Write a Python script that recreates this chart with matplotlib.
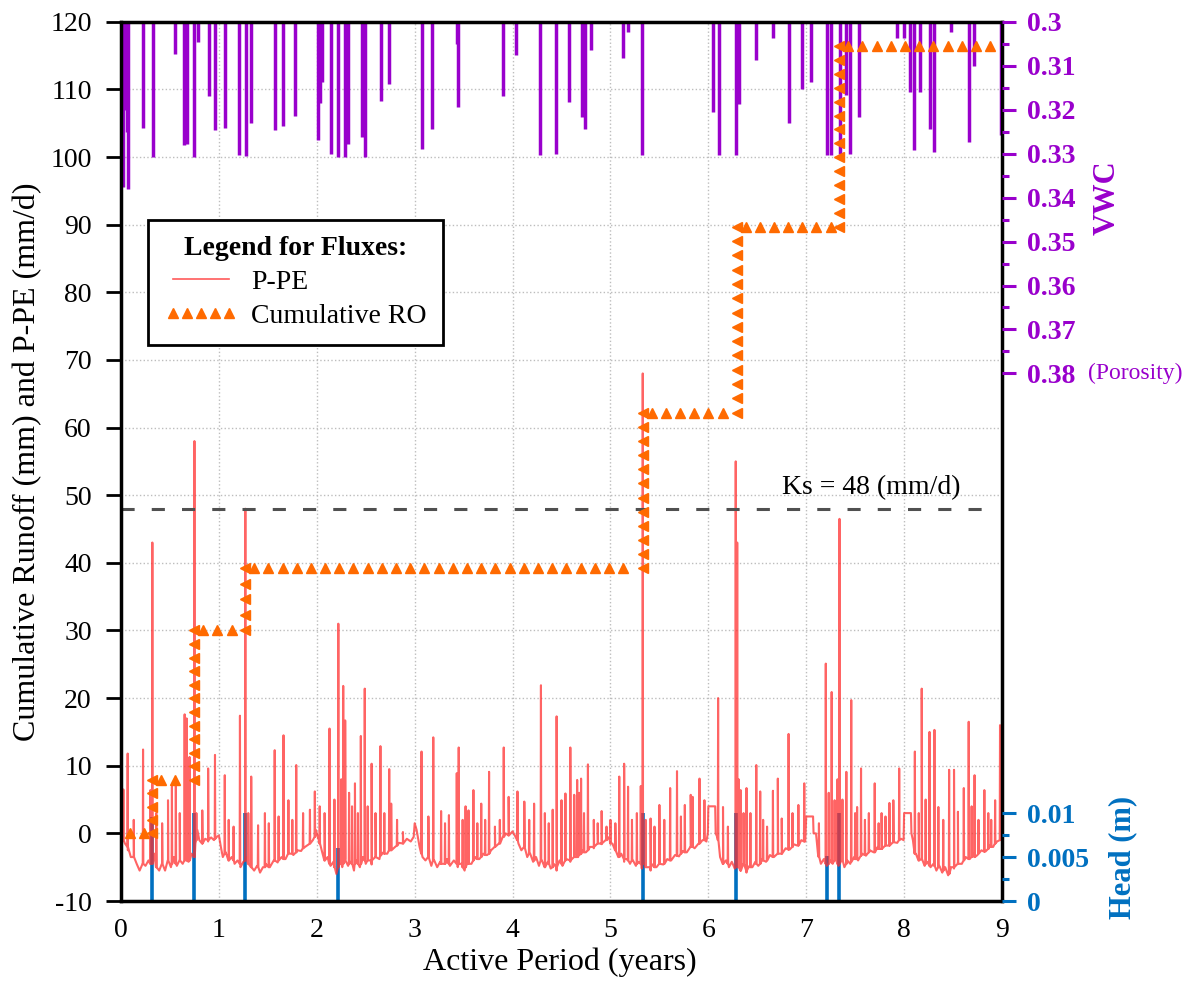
import numpy as np
import matplotlib.pyplot as plt
from matplotlib.lines import Line2D
from matplotlib import transforms

plt.rcParams['font.family'] = ['Liberation Serif', 'DejaVu Serif']
plt.rcParams['axes.unicode_minus'] = False

# ---- P-PE (mm/d): background trace (years, value)
pe_base = [
    (0.00, 0.0), (0.01, -1.0), (0.04, -1.5), (0.07, -2.5), (0.10, -3.5), (0.13, -3.0), (0.16, -4.5),
    (0.19, -5.5), (0.22, -4.5), (0.25, -4.8), (0.28, -4.0), (0.31, -4.5), (0.34, -3.0), (0.36, -5.0),
    (0.39, -5.5), (0.42, -4.5), (0.45, -5.5), (0.48, -4.0), (0.51, -5.0), (0.54, -3.5), (0.57, -4.8),
    (0.60, -3.8), (0.63, -4.5), (0.66, -3.5), (0.69, -4.2), (0.72, -3.0), (0.745, -3.5), (0.76, -1.5),
    (0.78, 0.5), (0.80, -1.0), (0.83, -1.5), (0.86, -0.8), (0.89, -1.2), (0.92, -0.6), (0.95, -1.0),
    (0.98, -0.5), (1.00, -0.3),
    (1.02, -2.0), (1.04, -3.5), (1.07, -2.8), (1.10, -4.0), (1.13, -3.5), (1.16, -4.5), (1.19, -4.0),
    (1.22, -5.0), (1.25, -4.2), (1.28, -3.5), (1.30, -4.5), (1.33, -5.0), (1.36, -5.5), (1.39, -4.8),
    (1.42, -5.8), (1.45, -5.0), (1.48, -4.5), (1.52, -5.0), (1.56, -4.0), (1.60, -4.3), (1.64, -3.5),
    (1.68, -3.8), (1.72, -3.0), (1.76, -3.2), (1.80, -2.5), (1.84, -2.6), (1.88, -2.0), (1.92, -1.6),
    (1.96, -1.0), (1.99, 0.5),
    (2.02, -1.0), (2.05, -2.5), (2.08, -4.0), (2.11, -3.5), (2.14, -4.8), (2.17, -4.2), (2.20, -6.0),
    (2.23, -4.5), (2.26, -5.0), (2.29, -3.8), (2.32, -4.8), (2.35, -4.2), (2.38, -5.5), (2.41, -4.0),
    (2.44, -5.0), (2.47, -3.5), (2.50, -4.5), (2.53, -4.0), (2.56, -4.6), (2.60, -3.5), (2.64, -3.8),
    (2.68, -2.8), (2.72, -3.0), (2.76, -2.2), (2.80, -2.0), (2.84, -1.4), (2.88, -1.5), (2.92, -0.8),
    (2.96, -1.2), (2.99, -0.5),
    (3.00, 1.5), (3.02, 0.5), (3.05, -2.0), (3.08, -3.5), (3.11, -4.0), (3.14, -3.5), (3.17, -4.8),
    (3.20, -4.0), (3.23, -5.0), (3.26, -4.2), (3.30, -4.5), (3.33, -3.8), (3.36, -4.8), (3.40, -4.0),
    (3.44, -5.0), (3.48, -4.5), (3.51, -5.5), (3.54, -4.2), (3.58, -4.5), (3.62, -3.5), (3.66, -3.8),
    (3.70, -3.0), (3.74, -3.2), (3.78, -2.5), (3.82, -2.0), (3.86, -1.5), (3.90, -0.5), (3.93, 0.0),
    (3.96, -0.3), (4.00, 0.3),
    (4.03, -0.5), (4.06, -1.5), (4.09, -2.5), (4.12, -2.0), (4.15, -3.5), (4.18, -3.0), (4.21, -4.2),
    (4.24, -3.5), (4.27, -4.8), (4.30, -4.0), (4.33, -5.0), (4.36, -4.2), (4.39, -5.2), (4.42, -4.5),
    (4.45, -5.5), (4.48, -4.0), (4.51, -4.8), (4.55, -3.8), (4.59, -4.2), (4.63, -3.2), (4.67, -3.5),
    (4.71, -2.5), (4.75, -2.8), (4.79, -2.0), (4.83, -2.2), (4.87, -1.4), (4.91, -1.6), (4.95, -1.0),
    (4.99, -0.5),
    (5.02, -1.5), (5.05, -2.5), (5.08, -3.5), (5.11, -3.0), (5.14, -4.2), (5.17, -3.8), (5.20, -4.5),
    (5.23, -4.0), (5.26, -4.8), (5.29, -4.2), (5.32, -5.2), (5.35, -4.5), (5.38, -5.0), (5.41, -5.5),
    (5.44, -4.5), (5.47, -5.0), (5.50, -4.2), (5.54, -4.6), (5.58, -3.8), (5.62, -4.0), (5.66, -3.2),
    (5.70, -3.4), (5.74, -2.6), (5.78, -2.8), (5.82, -2.0), (5.86, -2.2), (5.90, -1.5), (5.94, -1.0),
    (5.98, -1.2), (5.995, 0.0),
    (6.00, 4.0), (6.07, 4.0), (6.075, 0.0), (6.09, -0.5), (6.12, -3.5), (6.15, -4.5), (6.18, -4.0),
    (6.21, -5.0), (6.24, -4.2), (6.27, -5.2), (6.30, -4.8), (6.33, -5.5), (6.36, -4.5), (6.39, -5.8),
    (6.42, -4.8), (6.45, -5.0), (6.48, -4.2), (6.51, -4.8), (6.55, -3.8), (6.59, -4.2), (6.63, -3.2),
    (6.67, -3.5), (6.71, -2.8), (6.75, -3.0), (6.79, -2.2), (6.83, -2.4), (6.87, -1.6), (6.91, -1.8),
    (6.95, -1.0), (6.99, -1.2),
    (7.00, 2.5), (7.07, 2.5), (7.075, 0.0), (7.10, 0.0), (7.12, -3.0), (7.15, -4.5), (7.18, -3.8),
    (7.21, -4.8), (7.24, -4.0), (7.27, -4.5), (7.30, -3.5), (7.33, -4.8), (7.36, -4.0), (7.39, -5.0),
    (7.42, -4.0), (7.45, -4.5), (7.49, -3.5), (7.53, -4.0), (7.57, -3.0), (7.61, -3.3), (7.65, -2.5),
    (7.69, -2.8), (7.73, -2.0), (7.77, -2.3), (7.81, -1.6), (7.85, -1.8), (7.89, -1.2), (7.93, -1.4),
    (7.97, -0.8), (7.995, -1.0),
    (8.00, 3.0), (8.07, 3.0), (8.075, 0.0), (8.09, -1.0), (8.12, -3.0), (8.15, -4.0), (8.18, -3.5),
    (8.21, -4.8), (8.24, -4.2), (8.27, -5.0), (8.30, -4.5), (8.33, -5.5), (8.36, -4.8), (8.39, -5.8),
    (8.42, -5.0), (8.45, -6.2), (8.48, -5.0), (8.51, -5.2), (8.55, -4.2), (8.59, -4.5), (8.63, -3.5),
    (8.67, -3.8), (8.71, -3.0), (8.75, -3.2), (8.79, -2.5), (8.83, -2.7), (8.87, -1.8), (8.91, -2.0),
    (8.95, -1.2), (9.00, 0.0),
]

# rain events on top of the background: (years, foot, peak)
pe_spikes = [
    (0.005, -0.5, 10.5), (0.024, -1, 6.5), (0.068, -2, 11.8), (0.13, -3.5, 2), (0.225, -4.5, 12.4),
    (0.30, -4.5, 6.4), (0.32, -4.5, 43), (0.36, -5, 3), (0.42, -4.5, 1.5), (0.48, -4, 4.9),
    (0.52, -4.5, 6.9), (0.56, -4.5, 7.9), (0.60, -4, 3), (0.65, -4, 17.6), (0.67, -4, 17),
    (0.70, -4, 11.3), (0.75, -3.5, 58), (0.77, -1, 3), (0.83, -1.5, 3.4), (0.89, -1, 9.6),
    (0.96, -0.8, 11.6),
    (1.06, -3, 8.6), (1.10, -4, 2), (1.15, -4, 1), (1.215, -4.5, 17.4), (1.27, -4, 48),
    (1.30, -4.5, 3), (1.33, -5, 8.4), (1.40, -5, 1.2), (1.47, -5, 3), (1.51, -5, 1.5),
    (1.57, -4, 12.3), (1.61, -4, 2.5), (1.66, -3.8, 14.5), (1.71, -3, 4.9), (1.75, -3, 2),
    (1.79, -2.8, 10.1), (1.86, -2.2, 3), (1.93, -1.5, 3.5), (1.98, -0.5, 6.2),
    (2.03, -1.5, 4), (2.08, -4, 3), (2.13, -4.5, 15.5), (2.18, -5, 5), (2.22, -5, 31),
    (2.25, -4.5, 8), (2.27, -4.5, 21.8), (2.29, -4, 16.7), (2.33, -4.5, 6), (2.36, -4.5, 4),
    (2.39, -4.5, 7.4), (2.42, -4.5, 3), (2.45, -4.5, 14.4), (2.49, -4, 21.4), (2.52, -4, 4),
    (2.56, -4, 10.3), (2.60, -3.5, 3), (2.65, -3.3, 12.9), (2.69, -3, 3), (2.74, -2.5, 9.5),
    (2.76, -2.5, 4.4), (2.82, -1.8, 2), (2.88, -1.5, 0.2),
    (3.07, -3, 12.1), (3.14, -3.5, 2.5), (3.19, -4, 14.2), (3.27, -4.5, 3.3), (3.31, -4.5, 1.5),
    (3.35, -4.5, 2.7), (3.43, -4.5, 8.9), (3.45, -4.5, 12.7), (3.49, -5, 2), (3.52, -5, 4),
    (3.55, -4.5, 3.4), (3.60, -4, 6.4), (3.64, -3.8, 1.5), (3.68, -3.5, 4.4), (3.72, -3.2, 2),
    (3.76, -3, 9.1), (3.82, -2, 1), (3.87, -1.5, 2), (3.91, -0.5, 12.7), (3.96, -0.3, 5.4),
    (4.05, -1, 6.2), (4.12, -2, 4.7), (4.17, -3, 2), (4.22, -4, 4.4), (4.29, -4, 21.9),
    (4.33, -5, 3), (4.37, -4.5, 1.5), (4.41, -5, 3.5), (4.45, -5, 17.3), (4.50, -4.5, 4.9),
    (4.54, -4, 5.9), (4.59, -4, 12.7), (4.63, -3.5, 5.7), (4.66, -3.5, 7.9), (4.68, -3.2, 6),
    (4.70, -3, 8.1), (4.73, -2.8, 3), (4.77, -2.5, 10.2), (4.83, -2, 2), (4.87, -1.5, 1.5),
    (4.91, -1.5, 3.3), (4.96, -1, 1),
    (5.00, -1.5, 2), (5.05, -2.5, 1.5), (5.09, -3.5, 8.4), (5.14, -3.8, 10.3), (5.18, -4, 6.9),
    (5.22, -4, 2), (5.27, -4.5, 3), (5.31, -4.5, 7), (5.33, -4.5, 68), (5.36, -5, 2),
    (5.41, -5, 2.2), (5.45, -5, 1), (5.50, -4.5, 4.2), (5.55, -4.5, 2), (5.61, -4, 6.7),
    (5.68, -3.3, 9.2), (5.72, -3, 2.5), (5.76, -2.8, 4.2), (5.82, -2, 5.7), (5.84, -2, 5.4),
    (5.91, -1.5, 8.1), (5.96, -1, 4.9),
    (6.10, -1, 20), (6.15, -4.5, 3.9), (6.20, -4.5, 1), (6.28, -5, 55), (6.295, -5, 43),
    (6.31, -5, 8), (6.33, -5.5, 6.4), (6.36, -4.5, 3), (6.39, -5.5, 6.7), (6.43, -5, 3),
    (6.49, -4.5, 10.1), (6.53, -4.5, 6.2), (6.56, -4, 2), (6.60, -4, 1), (6.66, -3.5, 6.3),
    (6.71, -3, 8.1), (6.75, -3, 2.2), (6.82, -2.4, 14.7), (6.86, -2, 3), (6.92, -1.8, 4.2),
    (6.98, -1.2, 7.4),
    (7.13, -3.5, 1.5), (7.20, -4.5, 25.1), (7.23, -4.5, 6), (7.26, -4.3, 20.9), (7.29, -4, 4.9),
    (7.32, -4.5, 8), (7.34, -4.5, 46.5), (7.37, -4, 5), (7.41, -4.5, 9.1), (7.46, -4.2, 19.7),
    (7.50, -3.8, 3), (7.52, -3.8, 3.9), (7.56, -3.3, 9.6), (7.60, -3.2, 2), (7.64, -2.8, 3),
    (7.70, -2.8, 7.4), (7.74, -2.3, 1.5), (7.77, -2.3, 3), (7.81, -1.8, 2.5), (7.85, -1.8, 4.5),
    (7.89, -1.3, 4.9), (7.95, -1, 9.6),
    (8.11, -3, 12.1), (8.15, -4, 3), (8.18, -3.8, 21.4), (8.22, -4.5, 5), (8.26, -4.8, 15),
    (8.31, -4.8, 15.3), (8.35, -5, 3.9), (8.40, -5.5, 2), (8.46, -6, 9.4), (8.51, -5, 9.4),
    (8.55, -4.5, 3.2), (8.61, -4, 6.7), (8.66, -3.8, 16.5), (8.69, -3.5, 4), (8.72, -3.5, 8.6),
    (8.76, -3, 2), (8.82, -2.7, 6.4), (8.86, -2.3, 3), (8.89, -2, 2), (8.93, -1.5, 4.9),
    (8.98, -1, 16),
]

# cumulative runoff (mm): step times (years) and levels
cum_t = [0.32, 0.75, 1.27, 5.33, 6.29, 7.34]
cum_ro = [0.0, 7.9, 30.0, 39.2, 62.2, 89.7, 116.4]

# ponding head (m)
head_t = [0.32, 0.75, 1.27, 2.22, 5.33, 6.28, 7.21, 7.34]
head_v = [0.0096, 0.0100, 0.0100, 0.0060, 0.0100, 0.0100, 0.0051, 0.0100]

# VWC peaks after wetting events (years, VWC)
vwc_t = [0.010, 0.024, 0.045, 0.060, 0.075, 0.228, 0.324, 0.552, 0.647, 0.671, 0.749, 0.790, 0.899,
         0.960, 1.062, 1.209, 1.277, 1.328, 1.576, 1.658, 1.777, 2.016, 2.033, 2.050, 2.142, 2.220,
         2.288, 2.322, 2.458, 2.492, 2.653, 2.741, 3.07, 3.18, 3.43, 3.44, 3.90, 4.04, 4.28, 4.44,
         4.58, 4.71, 4.74, 4.80, 5.13, 5.18, 5.32, 6.05, 6.11, 6.28, 6.31, 6.49, 6.66, 6.82, 6.96,
         7.05, 7.21, 7.25, 7.35, 7.41, 7.45, 7.54, 7.93, 8.00, 8.06, 8.10, 8.16, 8.26, 8.31, 8.48,
         8.66, 8.71, 8.99]
vwc_v = [0.3180, 0.3377, 0.3200, 0.3250, 0.3380, 0.3242, 0.3308, 0.3074, 0.3280, 0.3277, 0.3308,
         0.3046, 0.3169, 0.3246, 0.3242, 0.3303, 0.3305, 0.3231, 0.3246, 0.3238, 0.3215, 0.3269,
         0.3185, 0.3138, 0.3300, 0.3308, 0.3308, 0.3277, 0.3262, 0.3308, 0.3180, 0.3142, 0.3290,
         0.3243, 0.3050, 0.3194, 0.3170, 0.3075, 0.3303, 0.3300, 0.3182, 0.3216, 0.3243, 0.3065,
         0.3083, 0.3023, 0.3303, 0.3205, 0.3303, 0.3303, 0.3187, 0.3088, 0.3038, 0.3231, 0.3152,
         0.3137, 0.3303, 0.3303, 0.3300, 0.3167, 0.3300, 0.3216, 0.3038, 0.3038, 0.3160, 0.3292,
         0.3160, 0.3243, 0.3297, 0.3023, 0.3273, 0.3100, 0.3258]

ks = 48

RED = '#ff3030'
ORANGE = '#ff6a00'
PURPLE = '#9900cc'
BLUE = '#0070c0'

# assemble the P-PE trace
pts = list(pe_base)
for t, foot, peak in pe_spikes:
    pts += [(t - 0.003, foot), (t, peak), (t + 0.003, foot)]
pts.sort()
pe_t = [p[0] for p in pts]
pe_v = [p[1] for p in pts]

fig = plt.figure(figsize=(11.9, 9.83), dpi=100)
ax = fig.add_axes([0.1017, 0.0834, 0.7403, 0.8945])
ax_vwc = ax.twinx()
ax_head = ax.twinx()

ax.set_xlim(0, 9)
ax.set_ylim(-10, 120)
ax_vwc.set_ylim(0.5, 0.3)
ax_head.set_ylim(0, 0.1)

# VWC and head drawn in the main axes so P-PE stays on top of the head bars
ax.vlines(vwc_t, 0.3, vwc_v, color=PURPLE, lw=2.5, zorder=2,
          transform=ax_vwc.transData)
ax.vlines(head_t, 0, head_v, color=BLUE, lw=2.6, zorder=2.4,
          transform=ax_head.transData)
ax.plot(pe_t, pe_v, color=RED, lw=1.5, alpha=0.75, zorder=3)

# cumulative runoff as a stepped line of markers
starts = [0.0] + cum_t
ends = cum_t + [9.0]
for i, lvl in enumerate(cum_ro):
    hx = np.arange(starts[i] + 0.09, ends[i] - 0.06, 0.145)
    ax.plot(hx, np.full(len(hx), lvl), ls='none', marker='^', ms=7,
            color=ORANGE, zorder=4)
for i, t in enumerate(cum_t):
    lo, hi = cum_ro[i], cum_ro[i + 1]
    n = max(int(round((hi - lo) / 2.1)), 1)
    vy = np.linspace(lo, hi, n + 1)
    ax.plot(np.full(len(vy), t), vy, ls='none', marker='<', ms=7,
            color=ORANGE, zorder=4)

ax.plot([0, 8.9], [ks, ks], color='#505050', lw=2.2, dashes=(4.3, 5.6), zorder=3.5)
ax.text(6.75, 50.1, 'Ks = 48 (mm/d)', fontsize=20, ha='left', va='baseline')

# main axes styling
ax.set_axisbelow(True)
ax.grid(True, ls=':', color='#bdbdbd', lw=1)
ax.set_xticks(range(0, 10))
ax.set_yticks(range(-10, 121, 10))
ax.tick_params(axis='x', length=0, pad=12, labelsize=20)
ax.tick_params(axis='y', direction='out', length=11, width=2, pad=10, labelsize=20)
for s in ax.spines.values():
    s.set_linewidth(2.5)
    s.set_zorder(6)

ax.text(-0.106, 0.5, 'Cumulative Runoff (mm) and P-PE (mm/d)', transform=ax.transAxes,
        rotation=90, ha='center', va='center', fontsize=23)
ax.text(0.498, -0.07, 'Active Period (years)', transform=ax.transAxes,
        ha='center', va='center', fontsize=23)

# VWC axis (inverted)
for s in ax_vwc.spines.values():
    s.set_visible(False)
ax_vwc.set_yticks(np.arange(0.30, 0.381, 0.01))
ax_vwc.set_yticks(np.arange(0.305, 0.38, 0.01), minor=True)
ax_vwc.set_yticklabels(['0.3', '0.31', '0.32', '0.33', '0.34', '0.35', '0.36', '0.37', '0.38'],
                       fontweight='bold')
ax_vwc.tick_params(axis='y', which='major', direction='out', length=10, width=2.2,
                   color=PURPLE, labelcolor=PURPLE, labelsize=20, pad=8)
ax_vwc.tick_params(axis='y', which='minor', direction='out', length=5, width=2.2, color=PURPLE)
ax.text(1.119, 0.80, 'VWC', transform=ax.transAxes, rotation=90, ha='center', va='center',
        fontsize=22, fontweight='bold', color=PURPLE)
ax_vwc.text(1.0976, 0.38, '(Porosity)', fontsize=17, color=PURPLE, ha='left', va='center',
            transform=transforms.blended_transform_factory(ax.transAxes, ax_vwc.transData))

# head axis
for s in ax_head.spines.values():
    s.set_visible(False)
ax_head.set_yticks([0, 0.005, 0.01])
ax_head.set_yticks([0.0025, 0.0075], minor=True)
ax_head.set_yticklabels(['0', '0.005', '0.01'], fontweight='bold')
ax_head.tick_params(axis='y', which='major', direction='out', length=10, width=2.2,
                    color=BLUE, labelcolor=BLUE, labelsize=20, pad=8)
ax_head.tick_params(axis='y', which='minor', direction='out', length=5, width=2.2, color=BLUE)
ax.text(1.137, 0.049, 'Head (m)', transform=ax.transAxes, rotation=90, ha='center', va='center',
        fontsize=22, fontweight='bold', color=BLUE)

# legend
handles = [
    Line2D([], [], color=RED, lw=1.2, alpha=0.8),
    Line2D([], [], color=ORANGE, ls='none', marker='^', ms=7),
]
leg = ax.legend(handles, ['P-PE', 'Cumulative RO'], title='Legend for Fluxes:',
                title_fontproperties={'weight': 'bold', 'size': 20}, fontsize=20,
                loc='upper left', bbox_to_anchor=(0.031, 0.775), borderaxespad=0,
                numpoints=5, handlelength=2.6, handletextpad=0.5, labelspacing=0.3,
                borderpad=0.6, fancybox=False, framealpha=1, edgecolor='black')
leg.get_frame().set_linewidth(2)
leg.set_zorder(7)

fig.savefig('out.png', dpi=100)
